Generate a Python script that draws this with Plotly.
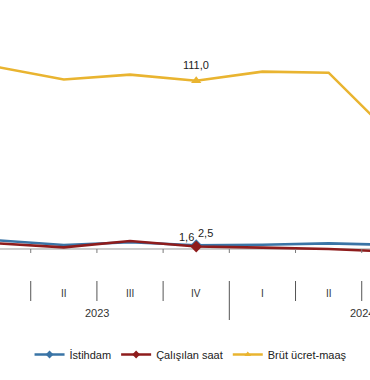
import plotly.graph_objects as go

# Data
quarters = ["I", "II", "III", "IV", "I", "II", "III"]
years = ["2023", "2024"]
istihdam = [5.7, 2.6, 4.4, 2.5, 2.8, 3.7, 2.6]
calisilan_saat = [3.7, 1.1, 5.3, 1.6, 0.9, 0.0, -1.8]
brut_ucret = [120.0, 111.8, 115.0, 111.0, 117.0, 116.3, 73.0]
highlight_idx = 3

BLUE = "#3A74A6"
RED = "#8E1C1C"
GOLD = "#E9B430"
FONT = "Liberation Sans, Arial, sans-serif"

xs = list(range(len(quarters)))

fig = go.Figure()

series = [
    ("İstihdam", istihdam, BLUE, "diamond"),
    ("Çalışılan saat", calisilan_saat, RED, "diamond"),
    ("Brüt ücret-maaş", brut_ucret, GOLD, "triangle-up"),
]

for name, vals, col, sym in series:
    fig.add_trace(go.Scatter(x=xs, y=vals, mode="lines", line=dict(color=col, width=2.6),
                             showlegend=False, hoverinfo="skip"))
    fig.add_trace(go.Scatter(x=[xs[highlight_idx]], y=[vals[highlight_idx]], mode="markers",
                             marker=dict(color=col, symbol=sym, size=9), showlegend=False))

for name, vals, col, sym in series:
    fig.add_trace(go.Scatter(x=[None], y=[None], mode="lines+markers", name=name,
                             line=dict(color=col, width=2.6),
                             marker=dict(color=col, symbol=sym, size=6)))

PLOT_H = 262.0

# zero axis line and ticks
fig.add_shape(type="line", xref="paper", yref="y", x0=0, x1=1, y0=0, y1=0,
              line=dict(color="#9a9a9a", width=1), layer="below")
for b in [0.5, 1.5, 2.5, 3.5, 4.5, 5.5]:
    fig.add_shape(type="line", xref="x", yref="y", ysizemode="pixel", yanchor=0,
                  x0=b, x1=b, y0=0, y1=-4, line=dict(color="#7a7a7a", width=1))
    long = (b == 3.5)
    fig.add_shape(type="line", xref="x", yref="paper", x0=b, x1=b,
                  y0=-(281 - PLOT_H) / PLOT_H,
                  y1=-((320 if long else 301) - PLOT_H) / PLOT_H,
                  line=dict(color="#555555", width=1))

# quarter labels
for i, q in enumerate(quarters):
    fig.add_annotation(x=i, y=-(293 - PLOT_H) / PLOT_H, xref="x", yref="paper", text=q,
                       yanchor="middle", xanchor="center",
                       showarrow=False, font=dict(size=10, color="#333333", family=FONT))
# year labels
fig.add_annotation(x=1.5, y=-(313 - PLOT_H) / PLOT_H, xref="x", yref="paper", text=years[0],
                   yanchor="middle", xanchor="center",
                   showarrow=False, font=dict(size=11, color="#333333", family=FONT))
fig.add_annotation(x=5.5, y=-(313 - PLOT_H) / PLOT_H, xref="x", yref="paper", text=years[1],
                   yanchor="middle", xanchor="center",
                   showarrow=False, font=dict(size=11, color="#333333", family=FONT))

# value labels
fig.add_annotation(x=highlight_idx, y=brut_ucret[highlight_idx], text=f"{brut_ucret[highlight_idx]:.1f}".replace(".", ","),
                   showarrow=False, yshift=16, font=dict(size=11, color="#222222", family=FONT))
fig.add_annotation(x=highlight_idx, y=calisilan_saat[highlight_idx], text=f"{calisilan_saat[highlight_idx]:.1f}".replace(".", ","),
                   showarrow=False, xshift=-10, yshift=10, font=dict(size=11, color="#222222", family=FONT))
fig.add_annotation(x=highlight_idx, y=istihdam[highlight_idx], text=f"{istihdam[highlight_idx]:.1f}".replace(".", ","),
                   showarrow=False, xshift=9, yshift=12, font=dict(size=11, color="#222222", family=FONT))

fig.update_layout(
    width=370, height=380,
    margin=dict(l=0, r=0, t=0, b=118),
    paper_bgcolor="white", plot_bgcolor="white",
    font=dict(family=FONT, size=11, color="#222222"),
    xaxis=dict(range=[0.036, 5.625], showgrid=False, zeroline=False, showticklabels=False,
               showline=False, ticks=""),
    yaxis=dict(range=[-8.58, 164.25], showgrid=False, zeroline=False, showticklabels=False,
               showline=False, ticks=""),
    legend=dict(orientation="h", x=0.515, xanchor="center", y=-(340 - PLOT_H) / PLOT_H, yanchor="top",
                font=dict(size=11, family=FONT, color="#222222"), traceorder="normal",
                itemwidth=30),
    showlegend=True,
)

fig.write_html("out.html", config={"displayModeBar": False},
               post_script="document.body.style.margin='0';")
